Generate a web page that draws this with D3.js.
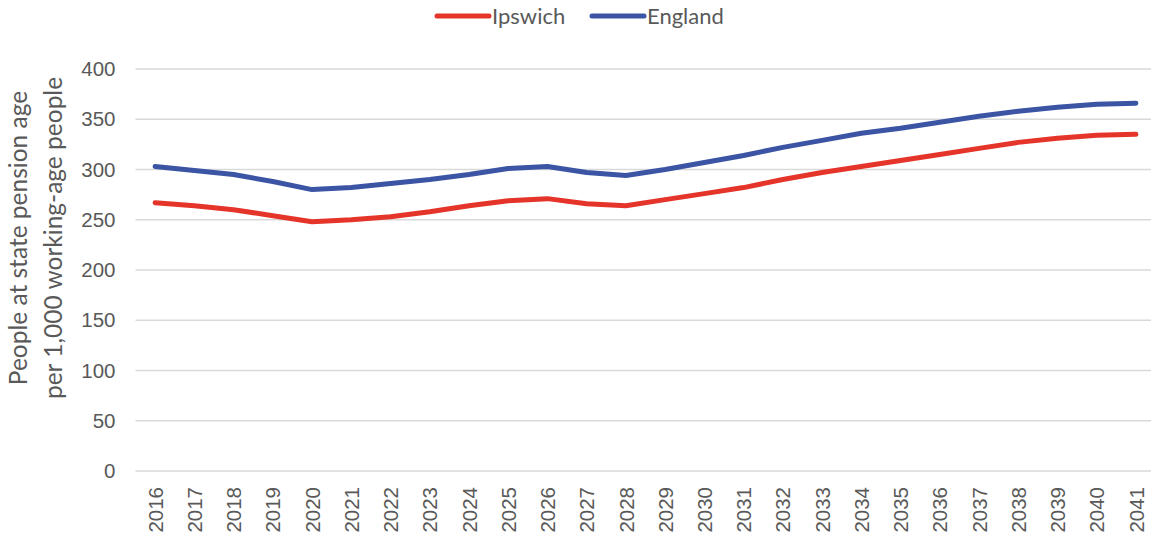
<!DOCTYPE html>
<html>
<head>
<meta charset="utf-8">
<script src="https://cdn.jsdelivr.net/npm/d3@7"></script>
<style>
  html, body { margin: 0; padding: 0; background: #fff; }
  svg { display: block; font-family: Lato, "Open Sans", "Liberation Sans", sans-serif; }
</style>
</head>
<body>
<svg id="chart" width="1151" height="541"></svg>
<script>
// Old-age dependency ratio: people at state pension age per 1,000 working-age people
const years = ["2016","2017","2018","2019","2020","2021","2022","2023","2024","2025","2026","2027","2028",
               "2029","2030","2031","2032","2033","2034","2035","2036","2037","2038","2039","2040","2041"];
const ipswich = [267, 264, 260, 254, 248, 250, 253, 258, 264, 269, 271, 266, 264,
                 270, 276, 282, 290, 297, 303, 309, 315, 321, 327, 331, 334, 335];
const england = [303, 299, 295, 288, 280, 282, 286, 290, 295, 301, 303, 297, 294,
                 300, 307, 314, 322, 329, 336, 341, 347, 353, 358, 362, 365, 366];
const yTicks = [0, 50, 100, 150, 200, 250, 300, 350, 400];
const seriesNames = ["Ipswich", "England"];
const seriesColors = ["#E5342A", "#3B54A4"];

const svg = d3.select("#chart");
const plotLeft = 135.5, plotRight = 1155.5, plotTop = 69, plotBottom = 471;

const x = d3.scalePoint().domain(years).range([plotLeft, plotRight]).padding(0.5);
const y = d3.scaleLinear().domain([0, 400]).range([plotBottom, plotTop]);

// horizontal gridlines
svg.append("g")
  .selectAll("line")
  .data(yTicks)
  .join("line")
  .attr("x1", plotLeft).attr("x2", plotRight)
  .attr("y1", d => y(d)).attr("y2", d => y(d))
  .attr("stroke", "#d9d9d9")
  .attr("stroke-width", 1.3);

// y axis labels
const yAxis = svg.append("g")
  .attr("transform", `translate(${plotLeft},0)`)
  .call(d3.axisLeft(y).tickValues(yTicks).tickSize(0).tickPadding(20));
yAxis.select(".domain").remove();
yAxis.selectAll("text")
  .attr("fill", "#595959")
  .style("font-size", "20.5px");

// x axis labels, rotated
const xAxis = svg.append("g")
  .attr("transform", `translate(0,${plotBottom})`)
  .call(d3.axisBottom(x).tickSize(0));
xAxis.select(".domain").remove();
xAxis.selectAll("text")
  .attr("fill", "#595959")
  .style("font-size", "20.5px")
  .attr("text-anchor", "end")
  .attr("dy", "0.35em")
  .attr("transform", "translate(0,16) rotate(-90)")
  .attr("x", 0).attr("y", 0);

// y axis title
const title = svg.append("text")
  .attr("transform", `translate(0,238) rotate(-90)`)
  .attr("text-anchor", "middle")
  .attr("fill", "#595959")
  .style("font-size", "24.5px");
title.append("tspan").attr("x", 0).attr("y", 27).text("People at state pension age");
title.append("tspan").attr("x", 0).attr("y", 62).text("per 1,000 working-age people");

// series lines
const line = d3.line()
  .x((d, i) => x(years[i]))
  .y(d => y(d));

[ipswich, england].forEach((vals, i) => {
  svg.append("path")
    .datum(vals)
    .attr("d", line)
    .attr("fill", "none")
    .attr("stroke", seriesColors[i])
    .attr("stroke-width", 5)
    .attr("stroke-linejoin", "round")
    .attr("stroke-linecap", "round");
});

// legend
const legendX = [437, 592];
const legend = svg.append("g");
seriesNames.forEach((name, i) => {
  const g = legend.append("g").attr("transform", `translate(${legendX[i]},16)`);
  g.append("line")
    .attr("x1", 0).attr("x2", 52).attr("y1", 0).attr("y2", 0)
    .attr("stroke", seriesColors[i])
    .attr("stroke-width", 5)
    .attr("stroke-linecap", "round");
  g.append("text")
    .attr("x", 55).attr("y", 0).attr("dy", "0.35em")
    .attr("fill", "#595959")
    .style("font-size", "22px")
    .text(name);
});
</script>
</body>
</html>
